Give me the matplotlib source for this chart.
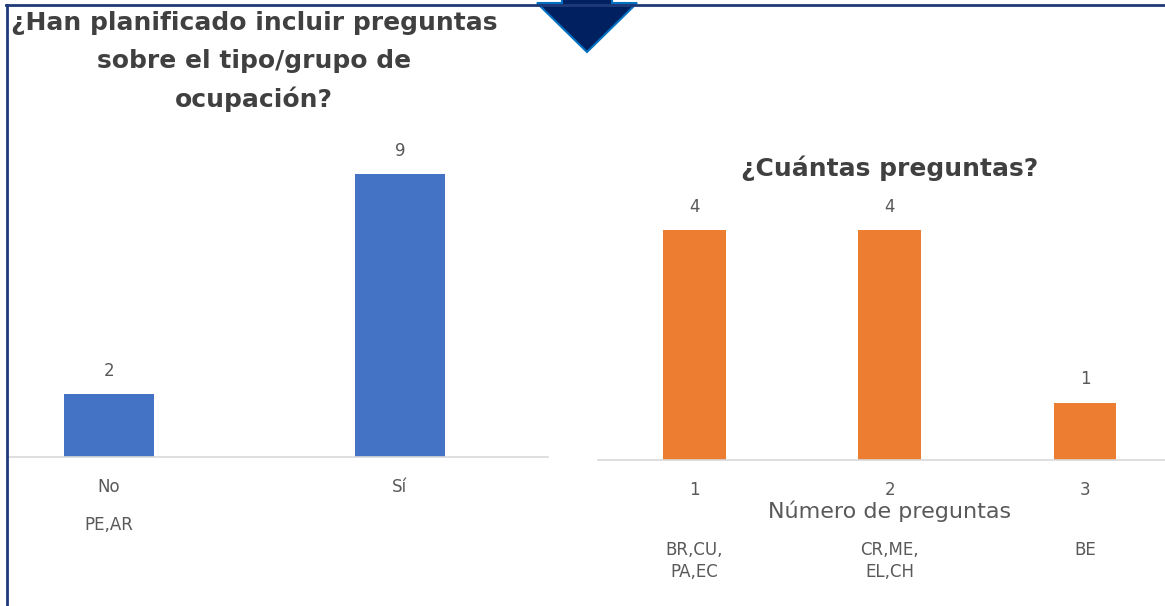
import matplotlib.pyplot as plt
from matplotlib.patches import Polygon
from matplotlib.lines import Line2D

W, H = 1165, 606

# left chart data
plan_cats = ["No", "Sí"]
plan_vals = [2, 9]
plan_countries = ["PE,AR", ""]

# right chart data
num_cats = ["1", "2", "3"]
num_vals = [4, 4, 1]
num_countries = ["BR,CU,\nPA,EC", "CR,ME,\nEL,CH", "BE"]

plt.rcParams["font.family"] = ["DejaVu Sans"]

fig = plt.figure(figsize=(W / 100, H / 100), dpi=100)


def px_axes(x0, x1, ytop, ybase):
    return fig.add_axes([x0 / W, 1 - ybase / H, (x1 - x0) / W, (ybase - ytop) / H])


def fx(x):
    return x / W


def fy(y):
    return 1 - y / H


grey_txt = "#595959"

# -------------------- left chart --------------------
ax1 = px_axes(8, 548, 100, 457)
ax1.bar(range(len(plan_vals)), plan_vals, width=0.31, color="#4472C4")
ax1.set_xlim(-0.347, 1.509)
ax1.set_ylim(0, 357 / 31.5)
for i, v in enumerate(plan_vals):
    ax1.annotate(str(v), (i, v), xytext=(0, 14), textcoords="offset pixels",
                 ha="center", va="bottom", fontsize=12, color=grey_txt)
    ax1.annotate(plan_cats[i], (i, 0), xytext=(0, -30), textcoords="offset pixels",
                 ha="center", va="center", fontsize=12, color=grey_txt)
    if plan_countries[i]:
        ax1.annotate(plan_countries[i], (i, 0), xytext=(0, -68), textcoords="offset pixels",
                     ha="center", va="center", fontsize=12, color=grey_txt)

# -------------------- right chart --------------------
ax2 = px_axes(598, 1165, 150, 460)
ax2.bar(range(len(num_vals)), num_vals, width=0.32, color="#ED7D31")
ax2.set_xlim(-0.494, 2.41)
ax2.set_ylim(0, 310 / 57.5)
for i, v in enumerate(num_vals):
    ax2.annotate(str(v), (i, v), xytext=(0, 14), textcoords="offset pixels",
                 ha="center", va="bottom", fontsize=12, color=grey_txt)
    ax2.annotate(num_cats[i], (i, 0), xytext=(0, -30), textcoords="offset pixels",
                 ha="center", va="center", fontsize=12, color=grey_txt)
    ax2.annotate(num_countries[i], (i, 0), xytext=(0, -81), textcoords="offset pixels",
                 ha="center", va="top", fontsize=12, color=grey_txt, linespacing=1.3)
ax2.annotate("Número de preguntas", (1, 0), xytext=(0, -51), textcoords="offset pixels",
             ha="center", va="center", fontsize=16, color=grey_txt)

for ax in (ax1, ax2):
    ax.set_xticks([])
    ax.set_yticks([])
    for s in ("top", "left", "right"):
        ax.spines[s].set_visible(False)
    ax.spines["bottom"].set_color("#d9d9d9")
    ax.spines["bottom"].set_linewidth(1.2)
    ax.patch.set_alpha(0)

# titles
title_kw = dict(ha="center", va="center", fontsize=18, fontweight="bold", color="#404040")
fig.text(fx(254), fy(23), "¿Han planificado incluir preguntas", **title_kw)
fig.text(fx(254), fy(61), "sobre el tipo/grupo de", **title_kw)
fig.text(fx(254), fy(99), "ocupación?", **title_kw)
fig.text(fx(890), fy(168), "¿Cuántas preguntas?", **title_kw)

# frame lines
navy = "#1F3A78"
fig.add_artist(Line2D([fx(6.5), fx(6.5)], [fy(5), fy(606)], color=navy, lw=2))
fig.add_artist(Line2D([fx(5.5), fx(1165)], [fy(5), fy(5)], color=navy, lw=2))

# arrow head at top
pts = [(562, -2), (562, 3), (537, 3), (587, 52), (637, 3), (612, 3), (612, -2)]
fig.add_artist(Polygon([(fx(x), fy(y)) for x, y in pts], closed=True,
                       facecolor="#002060", edgecolor="#0070C0", lw=1.5,
                       transform=fig.transFigure))

fig.savefig("out.png", dpi=100)
